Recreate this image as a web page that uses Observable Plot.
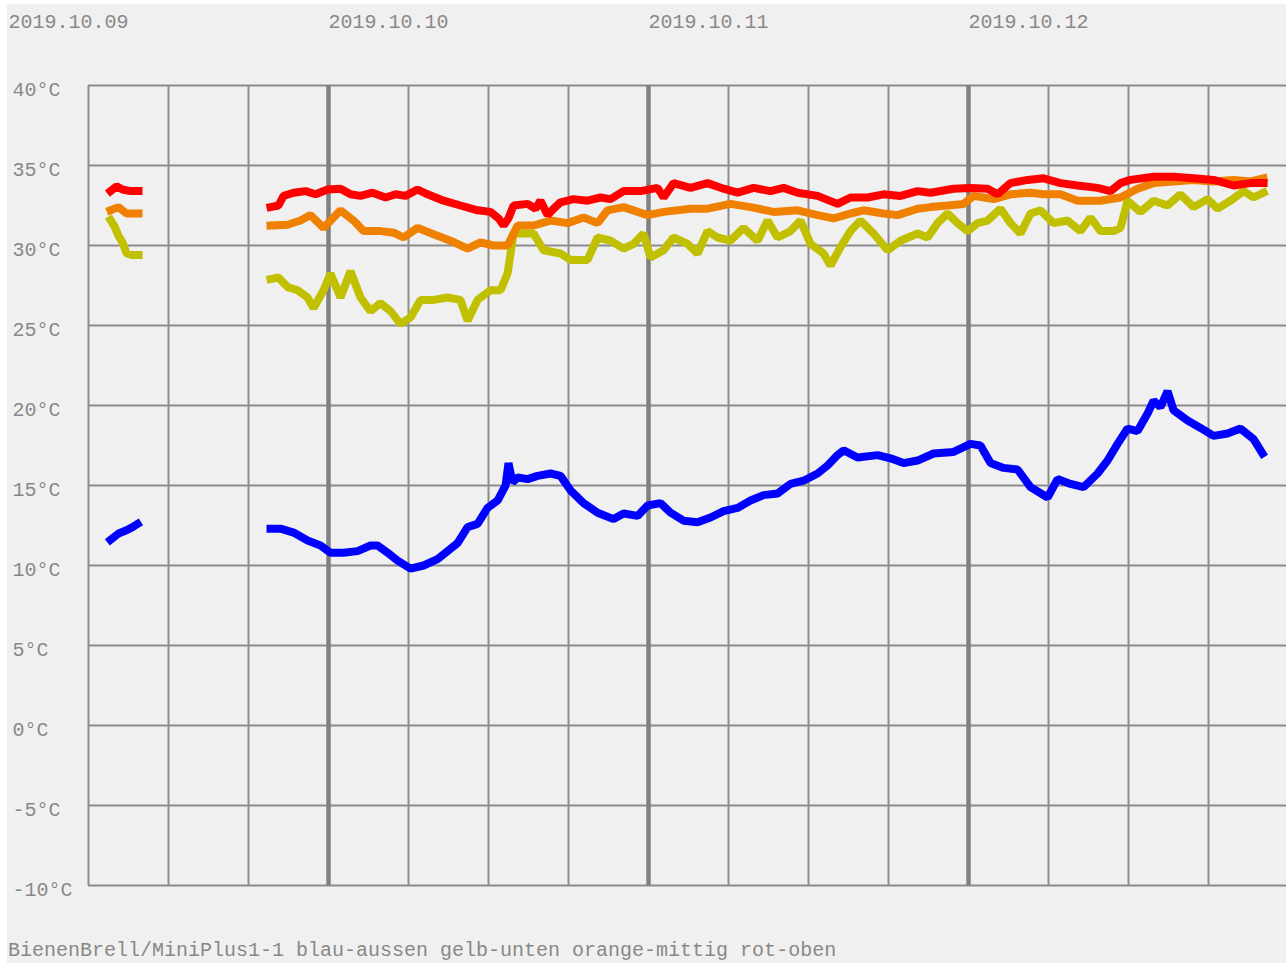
<!DOCTYPE html>
<html>
<head>
<meta charset="utf-8">
<script src="https://cdn.jsdelivr.net/npm/d3@7"></script>
<script src="https://cdn.jsdelivr.net/npm/@observablehq/plot@0.6"></script>
<style>
  html, body { margin: 0; padding: 0; background: #ffffff; overflow: hidden; }
  #wrap { position: absolute; left: 7px; top: 4px; width: 1279px; height: 959px; background: #f0f0f0; overflow: hidden; }
  #caption { position: absolute; left: 1px; top: 937px; font-family: "Liberation Mono", "DejaVu Sans Mono", monospace; font-size: 20px; line-height: 20px; color: #888888; white-space: pre; }
</style>
</head>
<body>
<div id="wrap">
  <div id="chart"></div>
  <div id="caption"></div>
</div>
<script>
// time is given in hours after 2019-10-09 00:00
const captionText = "BienenBrell/MiniPlus1-1 blau-aussen gelb-unten orange-mittig rot-oben";
const dayLabels = ["2019.10.09", "2019.10.10", "2019.10.11", "2019.10.12"];
const dayHours = [0, 24, 48, 72];
const dayLineHours = [24, 48, 72];
const quarterLineHours = [6, 12, 18, 30, 36, 42, 54, 60, 66, 78, 84, 90];
const yTicks = [40, 35, 30, 25, 20, 15, 10, 5, 0, -5, -10];
const xStartHour = 6, xEndHour = 96;

const redHours = [7.65, 8.1, 8.55, 9.15, 9.75, 14, 19.65, 20.25, 20.63, 21.38, 22.28, 23.03, 23.93, 24.9, 25.65, 26.4, 27.3, 28.28, 29.03, 29.78, 30.68, 31.43, 32.63, 33.9, 35.18, 36.15, 36.75, 37.13, 37.5, 37.88, 38.93, 39.53, 39.9, 40.43, 40.88, 41.4, 42.38, 43.43, 44.4, 45.15, 46.13, 47.4, 48.68, 49.13, 49.88, 51.15, 52.43, 53.63, 54.68, 55.88, 57.15, 58.13, 59.18, 60.68, 62.18, 63.15, 64.43, 65.63, 66.9, 68.18, 69.15, 70.88, 72.15, 73.43, 74.18, 75.15, 76.43, 77.63, 78.9, 80.18, 81.68, 82.65, 83.4, 84.15, 85.88, 87.38, 88.88, 90.38, 91.88, 93.15, 94.13];
const redValues = [33.4, 33.7, 33.5, 33.4, 33.4, null, 32.4, 32.5, 33.1, 33.3, 33.4, 33.2, 33.5, 33.55, 33.2, 33.1, 33.3, 33.0, 33.2, 33.1, 33.5, 33.2, 32.8, 32.5, 32.2, 32.1, 31.7, 31.25, 31.7, 32.5, 32.6, 32.3, 32.8, 31.9, 32.3, 32.7, 32.9, 32.8, 33.0, 32.9, 33.4, 33.4, 33.6, 33.0, 33.9, 33.6, 33.9, 33.55, 33.3, 33.6, 33.4, 33.6, 33.3, 33.1, 32.6, 33.0, 33.0, 33.2, 33.1, 33.4, 33.3, 33.55, 33.6, 33.55, 33.2, 33.9, 34.1, 34.2, 33.9, 33.75, 33.6, 33.4, 33.9, 34.1, 34.3, 34.3, 34.2, 34.1, 33.75, 33.9, 33.9];

const orangeHours = [7.65, 8.25, 8.85, 9.75, 14, 19.65, 20.93, 21.9, 22.65, 23.63, 24.9, 25.88, 26.63, 27.9, 28.88, 29.63, 30.68, 31.88, 33.15, 34.43, 35.4, 36.38, 37.43, 38.18, 39.38, 40.65, 41.93, 43.13, 44.18, 44.93, 46.13, 47.93, 49.13, 51.15, 52.43, 54.15, 55.65, 57.38, 59.18, 60.68, 61.88, 63.15, 64.13, 65.63, 66.68, 68.18, 69.15, 70.43, 71.63, 72.38, 73.88, 75.15, 76.65, 77.63, 78.9, 80.18, 81.9, 83.4, 84.68, 85.88, 87.38, 88.88, 90.38, 91.88, 93.15, 94.13];
const orangeValues = [32.2, 32.4, 32.0, 32.0, null, 31.25, 31.3, 31.56, 31.9, 31.1, 32.2, 31.56, 30.9, 30.9, 30.8, 30.5, 31.1, 30.7, 30.3, 29.8, 30.2, 30.0, 30.0, 31.25, 31.25, 31.56, 31.4, 31.75, 31.4, 32.2, 32.4, 31.9, 32.1, 32.3, 32.3, 32.6, 32.4, 32.1, 32.2, 31.9, 31.7, 32.0, 32.2, 32.0, 31.9, 32.3, 32.4, 32.5, 32.6, 33.1, 32.9, 33.2, 33.3, 33.2, 33.2, 32.8, 32.8, 33.0, 33.55, 33.9, 34.0, 34.1, 34.0, 34.1, 34.0, 34.2];

const yellowHours = [7.65, 7.95, 8.25, 8.55, 8.85, 9.3, 9.75, 14, 19.65, 20.25, 20.93, 21.68, 22.43, 22.88, 23.63, 24.15, 24.9, 25.65, 26.4, 27.15, 27.9, 28.65, 29.4, 30.15, 30.9, 31.88, 32.93, 33.9, 34.43, 35.18, 36.15, 36.9, 37.43, 37.88, 38.4, 39.38, 40.13, 41.4, 42.15, 43.43, 44.18, 45.15, 46.13, 46.88, 47.63, 48.15, 49.13, 49.88, 50.93, 51.68, 52.43, 53.18, 54.15, 55.13, 56.18, 56.93, 57.68, 58.65, 59.4, 60.15, 61.13, 61.65, 62.4, 63.15, 63.9, 64.88, 65.93, 66.9, 68.18, 68.93, 69.68, 70.43, 71.18, 71.93, 72.68, 73.43, 74.4, 75.15, 75.9, 76.65, 77.4, 78.38, 79.43, 80.4, 81.15, 81.9, 82.88, 83.4, 83.93, 84.9, 85.88, 86.93, 87.9, 88.88, 89.93, 90.68, 91.65, 92.63, 93.38, 94.13];
const yellowValues = [31.6, 31.2, 30.6, 30.2, 29.5, 29.4, 29.4, null, 27.9, 28.0, 27.4, 27.2, 26.75, 26.1, 27.2, 28.25, 26.75, 28.4, 26.75, 25.9, 26.4, 25.9, 25.1, 25.5, 26.6, 26.6, 26.75, 26.6, 25.3, 26.6, 27.2, 27.2, 28.25, 30.75, 30.75, 30.75, 29.7, 29.5, 29.1, 29.1, 30.5, 30.3, 29.8, 30.1, 30.75, 29.25, 29.7, 30.5, 30.1, 29.5, 30.9, 30.5, 30.3, 31.1, 30.3, 31.56, 30.5, 30.9, 31.56, 30.1, 29.5, 28.75, 29.9, 30.9, 31.56, 30.75, 29.7, 30.3, 30.75, 30.5, 31.4, 32.0, 31.4, 30.9, 31.4, 31.56, 32.3, 31.4, 30.75, 32.0, 32.2, 31.4, 31.56, 30.9, 31.75, 30.9, 30.9, 31.1, 32.8, 32.1, 32.8, 32.5, 33.2, 32.4, 32.9, 32.3, 32.8, 33.4, 33.0, 33.3];

const blueHours = [7.65, 8.25, 8.85, 9.3, 9.68, 14, 19.65, 20.4, 21.38, 22.43, 23.4, 24.15, 25.13, 26.18, 27.15, 27.68, 28.43, 29.18, 30.15, 31.13, 32.18, 32.93, 33.68, 34.43, 35.18, 35.93, 36.68, 37.28, 37.5, 37.8, 38.18, 38.93, 39.68, 40.65, 41.4, 42.15, 43.13, 44.18, 45.38, 46.13, 47.18, 47.93, 48.9, 49.65, 50.63, 51.68, 52.65, 53.63, 54.68, 55.65, 56.63, 57.68, 58.65, 59.63, 60.68, 61.43, 62.18, 62.63, 63.68, 65.18, 66.15, 67.13, 68.18, 69.38, 70.88, 72.15, 72.9, 73.65, 74.63, 75.68, 76.65, 77.93, 78.68, 79.65, 80.63, 81.68, 82.43, 83.18, 83.93, 84.68, 85.43, 85.88, 86.4, 86.93, 87.38, 88.43, 89.4, 90.38, 91.43, 92.4, 93.38, 94.05];
const blueValues = [11.6, 12.0, 12.2, 12.4, 12.6, null, 12.3, 12.3, 12.06, 11.56, 11.25, 10.8, 10.8, 10.9, 11.25, 11.25, 10.8, 10.3, 9.8, 10.0, 10.4, 10.9, 11.4, 12.4, 12.6, 13.6, 14.06, 15.0, 16.4, 15.2, 15.5, 15.4, 15.6, 15.75, 15.6, 14.7, 13.9, 13.3, 12.9, 13.25, 13.1, 13.75, 13.9, 13.3, 12.8, 12.7, 13.0, 13.4, 13.6, 14.06, 14.4, 14.5, 15.1, 15.3, 15.75, 16.25, 16.9, 17.2, 16.75, 16.9, 16.7, 16.4, 16.56, 17.0, 17.1, 17.6, 17.5, 16.4, 16.1, 16.0, 14.9, 14.25, 15.4, 15.1, 14.9, 15.75, 16.56, 17.6, 18.56, 18.4, 19.5, 20.3, 19.9, 20.9, 19.7, 19.06, 18.6, 18.1, 18.25, 18.56, 17.9, 17.0];

const T0 = Date.UTC(2019, 9, 9);
const toDate = h => new Date(T0 + h * 3600e3);
const rows = (hours, values) => hours.map((h, i) => ({t: toDate(h), v: values[i]}));

const lineStyle = {x: "t", y: "v", strokeWidth: 8, strokeLinejoin: "bevel", strokeLinecap: "square"};
const fontFamily = '"Liberation Mono", "DejaVu Sans Mono", monospace';

const chart = Plot.plot({
  width: 1279,
  height: 900,
  marginTop: 81,
  marginLeft: 81,
  marginRight: 0,
  marginBottom: 19,
  style: {background: "transparent", fontFamily, fontSize: "20px", overflow: "visible"},
  x: {type: "utc", domain: [toDate(0), toDate(96)], range: [1, 1281], axis: null},
  y: {domain: [-10, 40], range: [881, 81], axis: null},
  marks: [
    Plot.ruleY(yTicks, {x1: () => toDate(xStartHour), x2: () => toDate(xEndHour), stroke: "#8c8c8c", strokeWidth: 2}),
    Plot.ruleX(quarterLineHours.map(toDate), {y1: -10, y2: 40, stroke: "#8c8c8c", strokeWidth: 2}),
    Plot.ruleX(dayLineHours.map(toDate), {y1: -10, y2: 40, stroke: "#808080", strokeWidth: 4.5}),
    Plot.axisX({anchor: "top", label: null, ticks: dayHours.map(toDate), tickFormat: (d, i) => dayLabels[i], tickSize: 0, tickPadding: 0,
      textAnchor: "start", lineAnchor: "middle", dy: -64, fill: "#888888", fontSize: 20}),
    Plot.axisY({anchor: "left", label: null, ticks: yTicks, tickFormat: d => `${d}°C`, tickSize: 0, tickPadding: 0,
      textAnchor: "start", dx: -76, dy: 4, fill: "#888888", fontSize: 20}),
    Plot.line(rows(blueHours, blueValues), {...lineStyle, stroke: "#0000ff"}),
    Plot.line(rows(yellowHours, yellowValues), {...lineStyle, stroke: "#c0c000"}),
    Plot.line(rows(orangeHours, orangeValues), {...lineStyle, stroke: "#f08000"}),
    Plot.line(rows(redHours, redValues), {...lineStyle, stroke: "#ff0000"})
  ]
});
document.getElementById("chart").appendChild(chart);
document.getElementById("caption").textContent = captionText;
</script>
</body>
</html>
